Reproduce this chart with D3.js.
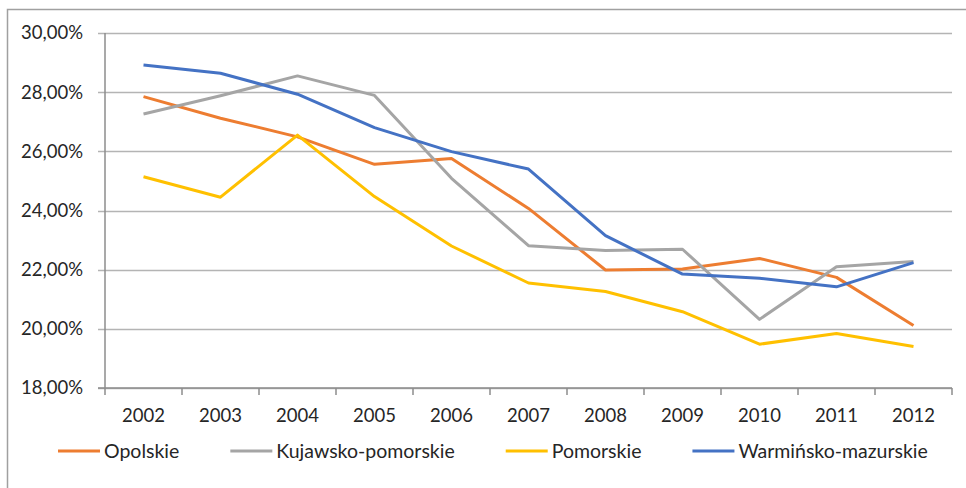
<!DOCTYPE html>
<html lang="pl">

<head>
    <meta charset="UTF-8">
    <title>line chart</title>
    <script src="https://cdn.jsdelivr.net/npm/d3@7"></script>
    <style>
        body {
            margin: 0;
            background: #fff;
        }

        text {
            font-family: Lato, "Open Sans", sans-serif;
            fill: #262626;
        }
    </style>
</head>

<body>
    <svg id="chart" width="966" height="488"></svg>

    <script>
        // data
        let years = ["2002", "2003", "2004", "2005", "2006", "2007", "2008", "2009", "2010", "2011", "2012"]
        let opolskie = [27.85, 27.12, 26.49, 25.56, 25.76, 24.07, 21.99, 22.02, 22.38, 21.74, 20.11]
        let kujawsko = [27.26, 27.88, 28.55, 27.89, 25.09, 22.81, 22.65, 22.69, 20.32, 22.10, 22.28]
        let pomorskie = [25.14, 24.45, 26.55, 24.47, 22.80, 21.55, 21.26, 20.58, 19.48, 19.84, 19.40]
        let warminsko = [28.92, 28.64, 27.93, 26.80, 25.99, 25.40, 23.15, 21.85, 21.71, 21.42, 22.24]
        let yTicks = [18, 20, 22, 24, 26, 28, 30]

        let series = [
            { name: "Opolskie", values: opolskie, color: "#ED7D31" },
            { name: "Kujawsko-pomorskie", values: kujawsko, color: "#A5A5A5" },
            { name: "Pomorskie", values: pomorskie, color: "#FFC000" },
            { name: "Warmińsko-mazurskie", values: warminsko, color: "#4472C4" }
        ]

        let svg = d3.select("#chart")

        // outer frame (only top and left visible)
        svg.append("path")
            .attr("d", "M7.5,488 V9.5 H966")
            .attr("fill", "none")
            .attr("stroke", "#a0a0a0")
            .attr("stroke-width", 1.5)

        let pLeft = 105, pRight = 952, pTop = 33, pBottom = 388

        let x = d3.scaleBand().domain(years).range([pLeft, pRight])
        let y = d3.scaleLinear().domain([18, 30]).range([pBottom, pTop])

        // gridlines
        svg.append("g")
            .selectAll("line")
            .data(yTicks)
            .join("line")
            .attr("x1", pLeft - 7)
            .attr("x2", pRight)
            .attr("y1", d => Math.round(y(d)) + 0.5)
            .attr("y2", d => Math.round(y(d)) + 0.5)
            .attr("stroke", "#b4b4b4")
            .attr("stroke-width", 1.5)

        // y labels
        svg.append("g")
            .selectAll("text")
            .data(yTicks)
            .join("text")
            .attr("x", 83)
            .attr("y", d => y(d))
            .attr("dy", "0.35em")
            .attr("text-anchor", "end")
            .attr("font-size", 18.5)
            .text(d => d3.format(".2f")(d).replace(".", ",") + "%")

        // axes lines
        svg.append("line")
            .attr("x1", pLeft).attr("x2", pLeft)
            .attr("y1", pTop).attr("y2", pBottom)
            .attr("stroke", "#8c8c8c").attr("stroke-width", 1.5)
        svg.append("line")
            .attr("x1", pLeft - 7).attr("x2", pRight)
            .attr("y1", pBottom).attr("y2", pBottom)
            .attr("stroke", "#8c8c8c").attr("stroke-width", 1.5)

        // x ticks between categories
        let bounds = years.map(d => x(d)).concat([pRight])
        svg.append("g")
            .selectAll("line")
            .data(bounds)
            .join("line")
            .attr("x1", d => d).attr("x2", d => d)
            .attr("y1", pBottom).attr("y2", pBottom + 7)
            .attr("stroke", "#8c8c8c").attr("stroke-width", 1.5)

        // x labels
        svg.append("g")
            .selectAll("text")
            .data(years)
            .join("text")
            .attr("x", d => x(d) + x.bandwidth() / 2)
            .attr("y", 416)
            .attr("dy", "0.35em")
            .attr("text-anchor", "middle")
            .attr("font-size", 18.5)
            .text(d => d)

        // lines
        let line = d3.line()
            .x((d, i) => x(years[i]) + x.bandwidth() / 2)
            .y(d => y(d))

        svg.append("g")
            .selectAll("path")
            .data(series)
            .join("path")
            .attr("d", d => line(d.values))
            .attr("fill", "none")
            .attr("stroke", d => d.color)
            .attr("stroke-width", 3)
            .attr("stroke-linejoin", "round")

        // legend
        let legend = svg.append("g")
        let lx = 58
        series.forEach(s => {
            legend.append("line")
                .attr("x1", lx).attr("x2", lx + 42)
                .attr("y1", 451).attr("y2", 451)
                .attr("stroke", s.color).attr("stroke-width", 3)
            let t = legend.append("text")
                .attr("x", lx + 46)
                .attr("y", 451)
                .attr("dy", "0.35em")
                .attr("font-size", 19.5)
                .text(s.name)
            lx += 46 + t.node().getComputedTextLength() + 51
        })
    </script>

</body>

</html>
